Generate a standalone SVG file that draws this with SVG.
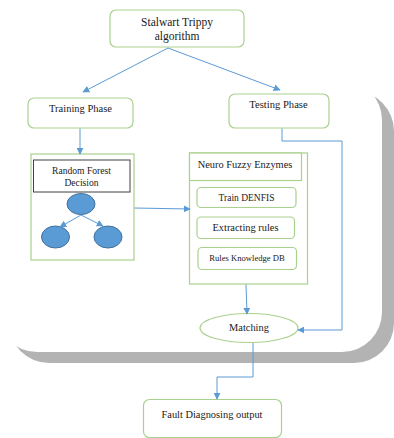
<svg xmlns="http://www.w3.org/2000/svg" width="394" height="438" viewBox="0 0 394 438">
<defs>
<style>
.box{fill:#fff;stroke:#a9d18e;stroke-width:1.2}
.ttl{fill:#fff;stroke:#404040;stroke-width:1}
.ln{fill:none;stroke:#5b9bd5;stroke-width:1}
.el{fill:#5b9bd5;stroke:#41719c;stroke-width:1}
text{fill:#1a1a1a;text-anchor:middle}
</style>
<marker id="ar" viewBox="0 0 10 10" refX="9" refY="5" markerWidth="7" markerHeight="7" markerUnits="userSpaceOnUse" orient="auto">
<path d="M0,0 L10,5 L0,10 z" fill="#5b9bd5"/>
</marker>
</defs>
<rect width="394" height="438" fill="#fff"/>
<g id="background">
<rect x="9" y="91" width="385" height="272" rx="40" fill="#b3b3b3"/>
<rect x="-3" y="80" width="385" height="272" rx="40" fill="#fff"/>
</g>
<g font-family="'Liberation Serif', 'DejaVu Serif', serif">
<g id="stalwart">
<rect class="box" x="110" y="10" width="134" height="37" rx="6"/>
<text x="177" y="25.5" font-size="11.5">Stalwart Trippy</text>
<text x="177" y="39.5" font-size="11.5">algorithm</text>
</g>
<g id="training">
<rect class="box" x="28" y="98" width="105" height="30" rx="6"/>
<text x="80.5" y="111.5" font-size="10.5">Training Phase</text>
</g>
<g id="testing">
<rect class="box" x="229" y="94" width="100" height="34" rx="6"/>
<text x="278.5" y="107.5" font-size="10.6">Testing Phase</text>
</g>
<g id="random-forest">
<rect class="box" x="31" y="154" width="103" height="106"/>
<rect class="ttl" x="33.5" y="160" width="96.5" height="32"/>
<text x="81.5" y="174" font-size="9.6">Random Forest</text>
<text x="81.5" y="186" font-size="9.6">Decision</text>
<ellipse class="el" cx="81" cy="204" rx="14" ry="10.5"/>
<ellipse class="el" cx="55.5" cy="237" rx="14" ry="11"/>
<ellipse class="el" cx="108" cy="237" rx="14" ry="11"/>
</g>
<g id="neuro-fuzzy">
<rect class="box" x="189.5" y="153" width="118" height="131"/>
<rect class="box" x="189.5" y="153" width="112" height="27.5"/>
<text x="245" y="167.5" font-size="10.4">Neuro Fuzzy Enzymes</text>
</g>
<g id="train-denfis">
<rect class="box" x="197" y="187.5" width="99" height="20" rx="4"/>
<text x="246.5" y="200.5" font-size="9.5">Train DENFIS</text>
</g>
<g id="extracting-rules">
<rect class="box" x="197" y="217" width="97.5" height="21.5" rx="4"/>
<text x="245.5" y="230.5" font-size="10.4">Extracting rules</text>
</g>
<g id="rules-db">
<rect class="box" x="198" y="247.5" width="98.5" height="22" rx="4"/>
<text x="247" y="260.5" font-size="8.6">Rules Knowledge DB</text>
</g>
<g id="matching">
<ellipse class="box" cx="249" cy="328" rx="49" ry="14.5"/>
<text x="249" y="330.5" font-size="10.4">Matching</text>
</g>
<g id="fault">
<rect class="box" x="143.5" y="399.5" width="138" height="38" rx="6"/>
<text x="212" y="417.5" font-size="10.4">Fault Diagnosing output</text>
</g>
</g>
<g id="connectors">
<line class="ln" x1="168" y1="48" x2="83" y2="92" marker-end="url(#ar)"/>
<line class="ln" x1="168" y1="48" x2="280" y2="90" marker-end="url(#ar)"/>
<line class="ln" x1="80" y1="128.5" x2="80" y2="154" marker-end="url(#ar)"/>
<line class="ln" x1="81" y1="215" x2="60" y2="227" marker-end="url(#ar)"/>
<line class="ln" x1="81" y1="215" x2="103" y2="226" marker-end="url(#ar)"/>
<line class="ln" x1="134.5" y1="208" x2="190" y2="209" marker-end="url(#ar)"/>
<polyline class="ln" points="282,128.5 282,141 342,141 342,330 298,330" marker-end="url(#ar)"/>
<line class="ln" x1="246" y1="284.5" x2="247" y2="314" marker-end="url(#ar)"/>
<polyline class="ln" points="253,343 253,377 217,377 217,399" marker-end="url(#ar)"/>
</g>
</svg>
